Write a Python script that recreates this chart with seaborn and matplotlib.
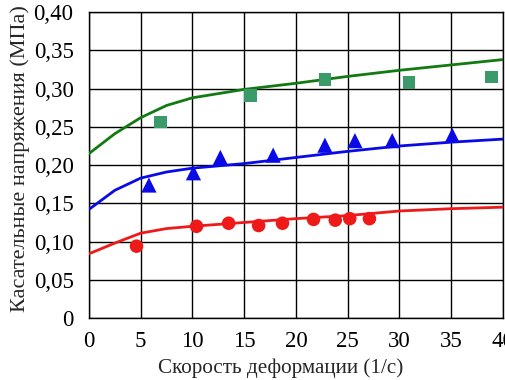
import numpy as np
import pandas as pd
import matplotlib
matplotlib.use('Agg')
import matplotlib.pyplot as plt
import seaborn as sns
from matplotlib.ticker import FuncFormatter

# fitted curves
fit_x = [0, 2.5, 5, 7.5, 10, 15, 20, 25, 30, 35, 40]
fit_green = [0.215, 0.241, 0.262, 0.278, 0.288, 0.299, 0.307, 0.316, 0.324, 0.331, 0.338]
fit_blue = [0.142, 0.167, 0.183, 0.191, 0.196, 0.202, 0.210, 0.218, 0.225, 0.230, 0.234]
fit_red = [0.084, 0.098, 0.111, 0.117, 0.120, 0.125, 0.130, 0.134, 0.140, 0.143, 0.145]

# measured points
sq_x = [6.9, 15.6, 22.8, 30.9, 38.9]
sq_y = [0.256, 0.291, 0.312, 0.308, 0.315]
tri_x = [5.8, 10.1, 12.7, 17.8, 22.8, 25.7, 29.3, 35.1]
tri_y = [0.174, 0.190, 0.210, 0.213, 0.226, 0.232, 0.232, 0.239]
dot_x = [4.6, 10.4, 13.5, 16.4, 18.7, 21.7, 23.8, 25.2, 27.1]
dot_y = [0.094, 0.120, 0.124, 0.121, 0.124, 0.129, 0.128, 0.130, 0.130]

x_ticks = [0, 5, 10, 15, 20, 25, 30, 35, 40]
y_ticks = [0, 0.05, 0.10, 0.15, 0.20, 0.25, 0.30, 0.35, 0.40]

sns.set_style('white')
plt.rcParams['font.family'] = ['Liberation Serif', 'DejaVu Serif']

fig = plt.figure(figsize=(5.05, 3.8), dpi=100)
ax = fig.add_axes([0.176, 0.163, 0.820, 0.805])

sns.lineplot(x=fit_x, y=fit_green, color='#127a12', lw=2, ax=ax, zorder=3)
sns.lineplot(x=fit_x, y=fit_blue, color='#0a0ae6', lw=2, ax=ax, zorder=3)
sns.lineplot(x=fit_x, y=fit_red, color='#ee1a1a', lw=2, ax=ax, zorder=3)

sns.scatterplot(x=sq_x, y=sq_y, marker='s', s=80, color='#3a9a6a', edgecolor='none', ax=ax, zorder=4)
sns.scatterplot(x=tri_x, y=tri_y, marker='^', s=120, color='#0a0ae6', edgecolor='none', ax=ax, zorder=4)
sns.scatterplot(x=dot_x, y=dot_y, marker='o', s=95, color='#ee1a1a', edgecolor='none', ax=ax, zorder=4)

ax.set_xlim(0, 40)
ax.set_ylim(0, 0.40)
ax.set_xticks(x_ticks)
ax.set_yticks(y_ticks)
ax.yaxis.set_major_formatter(FuncFormatter(lambda v, p: '0' if v == 0 else f'{v:.2f}'.replace('.', ',')))
ax.grid(True, color='black', lw=1.0)
ax.set_axisbelow(True)
for s in ax.spines.values():
    s.set_color('black')
    s.set_linewidth(1.0)
ax.tick_params(axis='both', direction='out', length=4, width=1, color='black',
               labelsize=16.5, labelcolor='black')
ax.tick_params(axis='y', pad=7)
ax.tick_params(axis='x', pad=5)
ax.set_xlabel('Скорость деформации (1/с)', fontsize=15.2)
ax.set_ylabel('Касательные напряжения (МПа)', fontsize=16)
ax.xaxis.set_label_coords(0.462, -0.133)
ax.yaxis.set_label_coords(-0.142, 0.52)

fig.savefig('out.png', dpi=100)
